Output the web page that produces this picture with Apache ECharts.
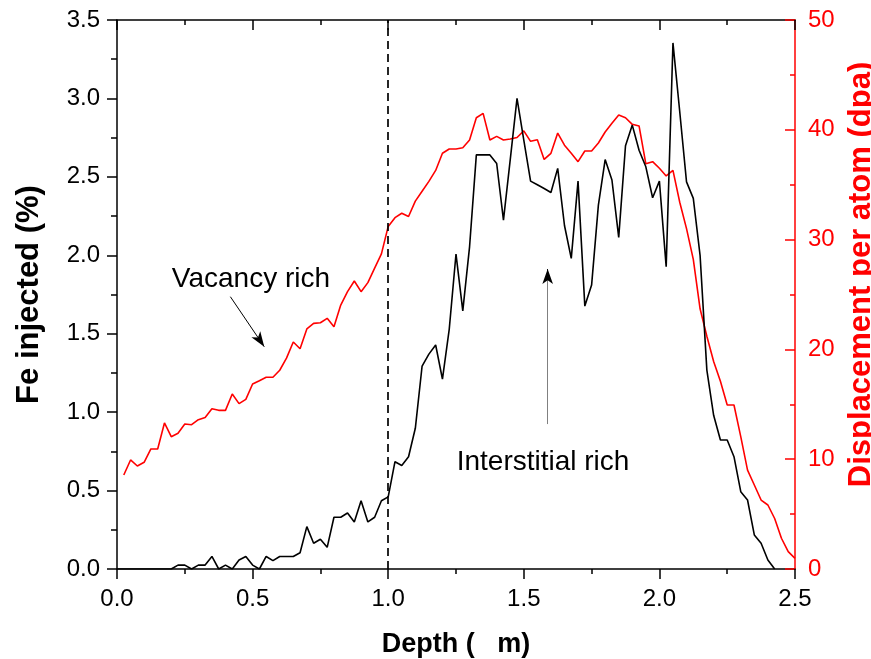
<!DOCTYPE html>
<html lang="en">

<head>
    <meta charset="UTF-8">
    <title>Fe injected / dpa vs depth</title>
    <script src="https://cdn.jsdelivr.net/npm/echarts@6.0.0/dist/echarts.min.js"></script>
    <style>
        html, body { margin: 0; padding: 0; background: #fff; overflow: hidden; }
    </style>
</head>

<body>
    <div id="echart" style="width: 871px; height: 659px;"></div>
</body>

<script>
    // depth bins (um), 0.025 step
    const depth = [
        0.000, 0.025, 0.050, 0.075, 0.100, 0.125, 0.150, 0.175, 0.200, 0.225,
        0.250, 0.275, 0.300, 0.325, 0.350, 0.375, 0.400, 0.425, 0.450, 0.475,
        0.500, 0.525, 0.550, 0.575, 0.600, 0.625, 0.650, 0.675, 0.700, 0.725,
        0.750, 0.775, 0.800, 0.825, 0.850, 0.875, 0.900, 0.925, 0.950, 0.975,
        1.000, 1.025, 1.050, 1.075, 1.100, 1.125, 1.150, 1.175, 1.200, 1.225,
        1.250, 1.275, 1.300, 1.325, 1.350, 1.375, 1.400, 1.425, 1.450, 1.475,
        1.500, 1.525, 1.550, 1.575, 1.600, 1.625, 1.650, 1.675, 1.700, 1.725,
        1.750, 1.775, 1.800, 1.825, 1.850, 1.875, 1.900, 1.925, 1.950, 1.975,
        2.000, 2.025, 2.050, 2.075, 2.100, 2.125, 2.150, 2.175, 2.200, 2.225,
        2.250, 2.275, 2.300, 2.325, 2.350, 2.375, 2.400, 2.425, 2.450, 2.475,
        2.500
    ];

    // Fe injected (%) - black curve, left axis
    const feInjected = [
        0, 0, 0, 0, 0, 0, 0, 0, 0, 0.025,
        0.025, 0, 0.025, 0.025, 0.08, 0, 0.025, 0, 0.057, 0.08,
        0.025, 0, 0.08, 0.053, 0.08, 0.08, 0.08, 0.104, 0.27, 0.164,
        0.19, 0.138, 0.33, 0.33, 0.357, 0.30, 0.435, 0.30, 0.33, 0.435,
        0.46, 0.684, 0.66, 0.716, 0.897, 1.294, 1.37, 1.428, 1.21, 1.528,
        2.008, 1.646, 2.054, 2.64, 2.64, 2.64, 2.585, 2.224, 2.61, 3.0,
        2.734, 2.473, 2.45, 2.426, 2.40, 2.554, 2.19, 1.98, 2.473, 1.676,
        1.81, 2.32, 2.61, 2.48, 2.114, 2.698, 2.83, 2.67, 2.564, 2.367,
        2.473, 1.927, 3.354, 2.915, 2.468, 2.363, 2.0, 1.268, 0.98, 0.822,
        0.822, 0.716, 0.493, 0.44, 0.217, 0.164, 0.057, 0, null, null,
        null
    ];

    // displacement per atom (dpa) - red curve, right axis
    const dpa = [
        null, 8.56, 9.93, 9.38, 9.72, 10.93, 10.93, 13.3, 12.05, 12.36,
        13.2, 13.14, 13.6, 13.8, 14.6, 14.45, 14.45, 15.94, 15.06, 15.45,
        16.85, 17.15, 17.46, 17.46, 18.1, 19.2, 20.67, 20.06, 21.86, 22.37,
        22.43, 22.83, 22.07, 24.04, 25.26, 26.23, 25.26, 26.08, 27.4, 28.7,
        31.2, 32.0, 32.4, 32.1, 33.5, 34.4, 35.3, 36.3, 37.86, 38.25,
        38.25, 38.37, 39.07, 41.1, 41.5, 39.07, 39.4, 39.07, 39.16, 39.3,
        39.9, 38.95, 39.1, 37.3, 37.86, 39.7, 38.6, 37.86, 37.1, 38.07,
        38.07, 38.8, 39.8, 40.6, 41.35, 41.1, 40.5, 40.35, 36.9, 37.1,
        36.5, 35.8, 36.3, 33.4, 31.0, 28.2, 23.7, 21.2, 18.9, 17.1,
        14.94, 14.94, 12.05, 9.0, 7.65, 6.28, 5.83, 4.6, 2.8, 1.58,
        0.97
    ];

    const xTicks = [0, 2.5, 0.5];      // min, max, interval
    const leftTicks = [0, 3.5, 0.5];
    const rightTicks = [0, 50, 10];

    const FONT = 'Liberation Sans';

    const pairs = (ys) => depth.map((d, i) => [d, ys[i]]).filter(p => p[1] != null);

    const myChart = echarts.init(document.getElementById('echart'), null, { renderer: 'canvas' });

    const baseX = {
        type: 'value',
        min: xTicks[0],
        max: xTicks[1],
        interval: xTicks[2],
        splitLine: { show: false },
        axisLine: { onZero: false, lineStyle: { color: '#000', width: 1.5 } },
    };

    myChart.setOption({
        animation: false,
        grid: { left: 117, right: 76, top: 20, bottom: 90, containLabel: false, outerBoundsMode: 'none' },
        xAxis: [
            Object.assign({}, baseX, {
                position: 'bottom',
                name: 'Depth (   m)',
                nameLocation: 'middle',
                nameGap: 62,
                nameTextStyle: { fontFamily: FONT, fontSize: 27, fontWeight: 'bold', color: '#000' },
                axisTick: { inside: false, length: 10, lineStyle: { color: '#000', width: 1.5 } },
                minorTick: { show: true, splitNumber: 2, length: 5, lineStyle: { color: '#000', width: 1.5 } },
                axisLabel: {
                    margin: 18, fontFamily: FONT, fontSize: 24, color: '#000',
                    formatter: v => v.toFixed(1)
                },
            }),
            Object.assign({}, baseX, {
                position: 'top',
                axisTick: { inside: true, length: 10, lineStyle: { color: '#000', width: 1.5 } },
                minorTick: { show: true, splitNumber: 2, length: 5, lineStyle: { color: '#000', width: 1.5 } },
                axisLabel: { show: false },
            }),
        ],
        yAxis: [
            {
                type: 'value',
                position: 'left',
                min: leftTicks[0],
                max: leftTicks[1],
                interval: leftTicks[2],
                splitLine: { show: false },
                name: 'Fe injected (%)',
                nameLocation: 'middle',
                nameRotate: 90,
                nameGap: 72,
                nameTextStyle: { fontFamily: FONT, fontSize: 31, fontWeight: 'bold', color: '#000' },
                axisLine: { onZero: false, lineStyle: { color: '#000', width: 1.5 } },
                axisTick: { inside: false, length: 10, lineStyle: { color: '#000', width: 1.5 } },
                minorTick: { show: true, splitNumber: 2, length: 6, lineStyle: { color: '#000', width: 1.5 } },
                axisLabel: {
                    margin: 17, fontFamily: FONT, fontSize: 24, color: '#000',
                    formatter: v => v.toFixed(1)
                },
            },
            {
                type: 'value',
                position: 'right',
                min: rightTicks[0],
                max: rightTicks[1],
                interval: rightTicks[2],
                splitLine: { show: false },
                name: 'Displacement per atom (dpa)',
                nameLocation: 'middle',
                nameRotate: 90,
                nameGap: 44,
                nameTextStyle: {
                    fontFamily: FONT, fontSize: 31, fontWeight: 'bold', color: '#ff0000',
                    padding: [0, 0, 0, 40]
                },
                axisLine: { onZero: false, lineStyle: { color: '#ff0000', width: 1.5 } },
                axisTick: { inside: true, length: 10, lineStyle: { color: '#ff0000', width: 1.5 } },
                minorTick: { show: true, splitNumber: 2, length: 5, lineStyle: { color: '#ff0000', width: 1.5 } },
                axisLabel: { margin: 13, fontFamily: FONT, fontSize: 24, color: '#ff0000' },
            },
        ],
        series: [
            {
                name: 'dpa',
                type: 'line',
                xAxisIndex: 0,
                yAxisIndex: 1,
                data: pairs(dpa),
                symbol: 'none',
                lineStyle: { color: '#ff0000', width: 1.6 },
                emphasis: { disabled: true },
            },
            {
                name: 'Fe',
                type: 'line',
                xAxisIndex: 0,
                yAxisIndex: 0,
                data: pairs(feInjected),
                symbol: 'none',
                lineStyle: { color: '#000', width: 1.6 },
                emphasis: { disabled: true },
                markLine: {
                    silent: true,
                    animation: false,
                    symbol: ['none', 'none'],
                    label: { show: false },
                    emphasis: { disabled: true },
                    data: [
                        // dashed line at 1 um
                        { xAxis: 1.0, lineStyle: { color: '#000', width: 1.7, type: [8, 5] } },
                        // vacancy rich arrow
                        [
                            { coord: [0.418, 1.736], symbol: 'none', lineStyle: { color: '#000', width: 1, type: 'solid' } },
                            { coord: [0.543, 1.417], symbol: 'arrow', symbolSize: [8, 15] }
                        ],
                        // interstitial rich arrow (gray shaft, black head)
                        [
                            { coord: [1.588, 0.924], symbol: 'none', lineStyle: { color: '#808080', width: 1, type: 'solid' } },
                            { coord: [1.588, 1.87], symbol: 'none' }
                        ],
                        [
                            { coord: [1.588, 1.86], symbol: 'none', lineStyle: { color: '#000', width: 1, type: 'solid' } },
                            { coord: [1.588, 1.912], symbol: 'arrow', symbolSize: [8, 15] }
                        ],
                    ],
                },
                markPoint: {
                    silent: true,
                    symbol: 'circle',
                    symbolSize: 1,
                    itemStyle: { color: 'rgba(0,0,0,0)' },
                    label: {
                        show: true, position: 'inside', color: '#000',
                        fontFamily: FONT, fontSize: 28,
                        formatter: p => p.name
                    },
                    data: [
                        { name: 'Vacancy rich', coord: [0.494, 1.845] },
                        { name: 'Interstitial rich', coord: [1.571, 0.682] },
                    ],
                },
            },
        ],
    });
</script>

</html>
